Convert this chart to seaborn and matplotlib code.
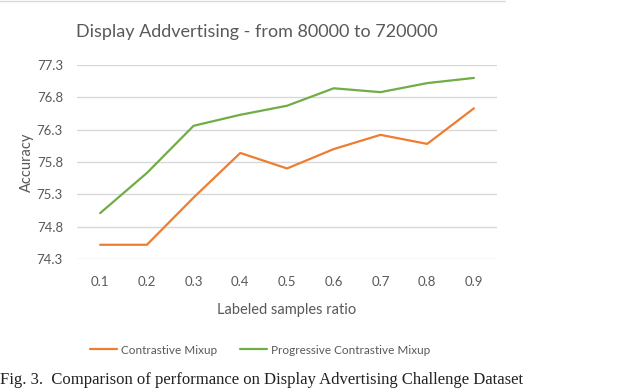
import pandas as pd
import matplotlib.pyplot as plt
import seaborn as sns
from matplotlib.lines import Line2D

ratios = ['0.1', '0.2', '0.3', '0.4', '0.5', '0.6', '0.7', '0.8', '0.9']
contrastive = [74.52, 74.52, 75.25, 75.94, 75.70, 76.00, 76.22, 76.08, 76.63]
progressive = [75.01, 75.63, 76.36, 76.53, 76.67, 76.94, 76.88, 77.02, 77.10]
y_ticks = [74.3, 74.8, 75.3, 75.8, 76.3, 76.8, 77.3]

df = pd.concat([
    pd.DataFrame({'ratio': ratios, 'acc': contrastive, 'model': 'Contrastive Mixup'}),
    pd.DataFrame({'ratio': ratios, 'acc': progressive, 'model': 'Progressive Contrastive Mixup'}),
], ignore_index=True)

sns.set_style('white')
plt.rcParams['font.family'] = ['Lato', 'DejaVu Sans']
grey = '#595959'

fig = plt.figure(figsize=(6.4, 3.89), dpi=100)
ax = fig.add_axes([0.120, 1 - 259 / 389, 0.657, (259 - 65) / 389])

sns.lineplot(data=df, x='ratio', y='acc', hue='model', ax=ax,
             palette=['#ED7D31', '#70AD47'], linewidth=1.6, legend=False)

ax.set_xlim(-0.5, 8.5)
ax.set_ylim(74.3, 77.3)
ax.set_yticks(y_ticks)
ax.set_yticklabels([f'{v:.1f}' for v in y_ticks])
ax.yaxis.grid(True, color='#D9D9D9', linewidth=1)
ax.set_axisbelow(True)
for s in ax.spines.values():
    s.set_visible(False)
ax.tick_params(axis='both', length=0, colors=grey, labelsize=9.5)
ax.tick_params(axis='x', pad=12)
ax.tick_params(axis='y', pad=10)
ax.set_xlabel('Labeled samples ratio', color=grey, fontsize=10.5, labelpad=11)
ax.set_ylabel('Accuracy', color=grey, fontsize=10.5, labelpad=2)

fig.text(257 / 640, 1 - 32 / 389, 'Display Addvertising - from 80000 to 720000',
         ha='center', va='center', color=grey, fontsize=13)

handles = [Line2D([], [], color='#ED7D31', lw=1.6), Line2D([], [], color='#70AD47', lw=1.6)]
fig.legend(handles, ['Contrastive Mixup', 'Progressive Contrastive Mixup'],
           loc='center', bbox_to_anchor=(260 / 640, 1 - 350 / 389), ncol=2,
           frameon=False, fontsize=8.5, labelcolor=grey, handlelength=2.3,
           columnspacing=2.0, handletextpad=0.3)

fig.add_artist(Line2D([0, 505 / 640], [0.998, 0.998], color='#D9D9D9', lw=1))
fig.text(0.0, 1 - 388 / 389, 'Fig. 3.  Comparison of performance on Display Advertising Challenge Dataset',
         ha='left', va='bottom', fontsize=12, family='Liberation Serif', color='#222222')

fig.savefig('out.png', dpi=100)
